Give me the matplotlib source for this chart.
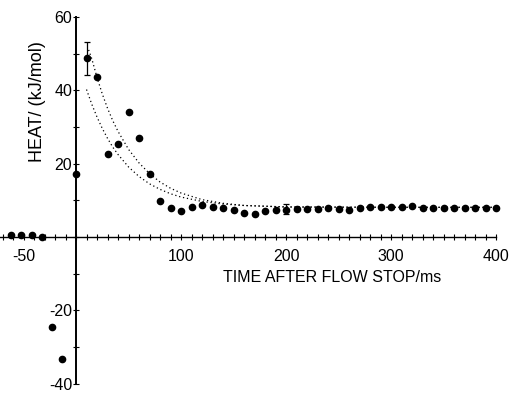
import numpy as np
import matplotlib.pyplot as plt

time_pre = [-62, -52, -42, -32, -23, -13, 0]
heat_pre = [0.6, 0.6, 0.5, 0.1, -24.5, -33.3, 17.1]

time_ms = [10, 20, 30, 40, 50, 60, 70, 80, 90, 100,
           110, 120, 130, 140, 150, 160, 170, 180, 190, 200,
           210, 220, 230, 240, 250, 260, 270, 280, 290, 300,
           310, 320, 330, 340, 350, 360, 370, 380, 390, 400]
heat = [48.7, 43.7, 22.5, 25.3, 34.0, 27.0, 17.1, 9.9, 8.0, 7.1,
        8.2, 8.7, 8.3, 7.8, 7.5, 6.6, 6.4, 7.1, 7.5, 7.5,
        7.6, 7.6, 7.6, 7.8, 7.6, 7.4, 7.8, 8.1, 8.1, 8.3,
        8.3, 8.4, 7.8, 7.8, 8.0, 8.0, 8.0, 7.8, 7.8, 7.8]

# error bars
err_time = [10, 200]
err_heat = [48.7, 7.5]
err_low = [4.6, 1.3]
err_high = [4.5, 1.5]

# the two dotted fit curves
fit_upper_t = [12, 15, 20, 25, 30, 35, 40, 50, 60, 70, 80, 90, 100, 120, 140, 160, 200, 300, 400]
fit_upper_y = [51.0, 48.6, 43.5, 39.0, 35.1, 31.7, 28.8, 23.9, 20.2, 17.3, 15.0, 13.3, 12.0,
               10.2, 9.2, 8.6, 8.2, 8.1, 8.1]
fit_lower_t = [10, 15, 20, 25, 30, 35, 40, 50, 60, 70, 80, 90, 100, 120, 140, 160, 200, 300, 400]
fit_lower_y = [40.2, 36.2, 32.7, 29.6, 26.9, 24.5, 22.5, 19.1, 16.5, 14.5, 13.0, 11.8, 10.9,
               9.7, 9.0, 8.6, 8.2, 8.1, 8.1]

x_tick_pos = [-50, 100, 200, 300, 400]
x_tick_txt = ['-50', '100', '200', '300', '400']
y_tick_pos = [-40, -20, 20, 40, 60]
y_tick_txt = ['-40', '-20', '20', '40', '60']

plt.rcParams['font.family'] = ['Liberation Sans', 'DejaVu Sans']

fig = plt.figure(figsize=(5.1, 3.93), dpi=100)
ax = fig.add_axes([0, 0, 1, 1])
ax.set_xlim(-72.4, 413.3)
ax.set_ylim(-42.5, 64.6)

ax.plot(fit_upper_t, fit_upper_y, color='black', lw=0.9, ls=(0, (1, 2.2)))
ax.plot(fit_lower_t, fit_lower_y, color='black', lw=0.9, ls=(0, (1, 2.2)))

ax.plot(time_pre, heat_pre, 'o', color='black', ms=4.5)
ax.plot(time_ms, heat, 'o', color='black', ms=4.5)
ax.errorbar(err_time, err_heat, yerr=[err_low, err_high], fmt='none',
            ecolor='black', elinewidth=0.9, capsize=2.2, capthick=0.9)

# axes crossing at the origin
for s in ['top', 'right']:
    ax.spines[s].set_visible(False)
ax.spines['left'].set_position(('data', 0))
ax.spines['bottom'].set_position(('data', 0))
ax.spines['left'].set_bounds(-40, 60)
ax.spines['bottom'].set_bounds(-72, 400)
ax.spines['left'].set_linewidth(1.4)
ax.spines['bottom'].set_linewidth(1.0)

ax.set_xticks(x_tick_pos)
ax.set_xticklabels(x_tick_txt)
ax.set_xticks(np.arange(-70, 401, 10), minor=True)
ax.set_yticks(y_tick_pos)
ax.set_yticklabels(y_tick_txt)
ax.set_yticks(np.arange(-40, 61, 10), minor=True)

ax.tick_params(axis='x', which='both', direction='inout', length=4.5, width=0.8,
               labelsize=11.5, pad=6)
ax.tick_params(axis='y', which='both', direction='inout', length=4.5, width=0.8,
               labelsize=11.5, pad=0.5)

ax.text(347.6, -10.9, 'TIME AFTER FLOW STOP/ms', ha='right', va='center', fontsize=11.5)
ax.text(-37.1, 36.9, 'HEAT/ (kJ/mol)', rotation=90, ha='center', va='center', fontsize=13)

fig.savefig('out.png', dpi=100)
